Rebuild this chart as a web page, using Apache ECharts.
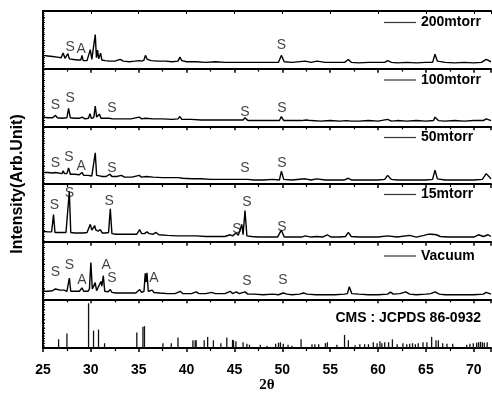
<!DOCTYPE html>
<html>
<head>
<meta charset="utf-8">
<script src="https://cdn.jsdelivr.net/npm/echarts@6/dist/echarts.min.js"></script>
<style>
html,body{margin:0;padding:0;background:#fff}
#main{width:492px;height:394px}
</style>
</head>
<body>
<div id="main"></div>
<script>
// XRD patterns, intensity in % of panel height, x = 2theta
var names = ['200mtorr', '100mtorr', '50mtorr', '15mtorr', 'Vacuum'];

var d200 = [[25,23],[25.5,22],[26,21],[26.5,20],[26.9,19],[27.1,27],[27.3,18],[27.45,19],[27.6,26],[27.75,17],[28.2,16],[28.6,15],[28.95,15],[29.07,23],[29.2,14],[29.6,14],[29.8,15],[29.94,33],[30.1,16],[30.3,17],[30.46,59],[30.58,19],[30.7,32],[30.82,17],[30.92,18],[31.02,27],[31.15,15],[31.5,14],[32,13],[32.5,13],[33.07,16],[33.4,13],[34,12],[34.6,13],[35.05,14],[35.3,13],[35.55,15],[35.7,23],[35.9,16],[36.3,14],[37,13],[37.8,13],[38.5,12],[39.1,13],[39.3,20],[39.5,14],[40,12],[41,12],[42,11],[43,12],[44,11],[45,11],[46,11],[47,11],[48,11],[49,11],[49.6,11],[49.9,23],[50.2,12],[51,11],[52.4,13],[53,11],[53.6,13],[54.5,11],[55.5,11],[56.5,11],[56.9,16],[57.2,11],[58,10],[59,11],[60,11],[60.7,11],[61,14],[61.4,11],[62,10],[63,11],[64,10],[65,11],[65.7,11],[65.95,25],[66.2,13],[67,11],[68,10],[69,11],[70,10],[70.8,11],[71.3,16],[71.8,12]];

var d100 = [[25,16],[25.5,15],[26,15],[26.3,19],[26.5,15],[27,14],[27.5,15],[27.67,31],[27.85,15],[28.3,14],[28.8,14],[29.07,16],[29.4,13],[29.75,14],[29.9,22],[30.05,14],[30.3,15],[30.46,35],[30.6,16],[30.75,14],[30.9,21],[31.05,14],[31.5,14],[31.9,14],[32.05,17],[32.25,13],[33,13],[33.2,15],[33.5,13],[34.2,13],[35.05,16],[35.3,13],[35.7,14],[36.5,13],[37.5,13],[38.5,12],[39.1,13],[39.3,17],[39.5,12],[40.5,12],[41.5,11],[42.5,11],[43.5,11],[44.5,11],[45.5,11],[45.9,11],[46.1,15],[46.4,10],[47,10],[48,10],[49,10],[49.7,10],[49.9,17],[50.15,10],[51,10],[52,10],[52.5,11],[53,10],[54,9],[55,10],[56,9],[56.7,10],[56.9,13],[57.2,9],[58,9],[59,10],[60,9],[61,12],[61.4,9],[62,10],[63,9],[64,10],[65,9],[65.8,10],[65.95,16],[66.3,10],[67,9],[68,10],[69,9],[70,10],[71,10],[71.3,13],[71.8,10]];

var d50 = [[25,20],[25.5,20],[26,19],[26.3,20],[26.5,18],[27,18],[27.1,23],[27.25,18],[27.5,18],[27.67,28],[27.85,17],[28.3,17],[28.8,16],[29.07,20],[29.25,15],[29.7,15],[29.9,18],[30.1,14],[30.3,15],[30.46,54],[30.6,15],[30.9,14],[31.2,13],[31.6,13],[32.0,17],[32.2,13],[32.7,13],[33.2,15],[33.5,12],[34.3,12],[35.05,15],[35.3,12],[35.8,13],[36.5,12],[37.5,11],[38.5,11],[39.1,11],[39.3,12],[39.6,10],[40.5,9],[41.5,9],[42.5,8],[43.5,8],[44.5,8],[45.5,8],[45.9,8],[46.1,11],[46.4,8],[47,7],[48,7],[49,8],[49.7,7],[49.9,22],[50.15,8],[51,7],[52.4,9],[53,7],[53.6,9],[54.5,7],[55.5,7],[56.5,7],[56.9,10],[57.2,7],[58,7],[59,7],[60,7],[60.7,8],[61,15],[61.4,8],[62,7],[63,7],[64,7],[65,7],[65.7,8],[65.95,24],[66.2,9],[67,7],[68,7],[69,7],[70,7],[70.9,8],[71.3,18],[71.8,9]];

var d15 = [[25,18],[25.5,17],[25.9,17],[26.1,47],[26.25,16],[26.6,16],[27,16],[27.4,16],[27.6,17],[27.75,87],[27.9,16],[28.3,15],[28.8,15],[29.2,15],[29.6,16],[29.8,17],[29.94,30],[30.1,20],[30.25,22],[30.4,28],[30.5,21],[30.6,21],[30.75,18],[30.98,21],[31.2,15],[31.5,15],[31.85,16],[32.03,57],[32.2,14],[32.6,13],[33.2,13],[34,13],[34.8,13],[35.1,21],[35.3,14],[35.6,14],[35.85,17],[36.1,14],[36.5,13],[36.8,16],[37.1,12],[38,11],[39,10],[40,10],[41,10],[42,9],[43,9],[44,9],[44.55,12],[44.8,10],[45.17,15],[45.4,11],[45.77,30],[45.9,12],[46.1,54],[46.3,10],[46.8,9],[47.5,8],[48.5,8],[49.5,8],[49.9,20],[50.2,8],[51,8],[52,8],[52.4,10],[53,8],[53.6,9],[54.2,8],[54.7,12],[55.1,8],[56,8],[56.6,9],[56.9,16],[57.2,9],[58,8],[59,8],[60,8],[61,10],[62,8],[63.3,11],[64,8],[64.8,11],[65.3,13],[65.6,13],[66.1,12],[66.5,9],[67.3,8],[68,8],[69,8],[70,8],[70.5,12],[71,9],[71.5,12],[71.8,9]];

var dVac = [[25,14],[25.5,14],[26,15],[26.3,18],[26.5,15],[26.8,16],[27,15],[27.2,16],[27.5,14],[27.75,37],[27.9,14],[28.3,14],[28.8,14],[29.07,20],[29.25,14],[29.7,14],[29.85,18],[30.0,64],[30.15,18],[30.3,17],[30.45,29],[30.6,15],[30.8,14],[31.05,31],[31.15,23],[31.3,41],[31.45,14],[31.8,13],[32.03,17],[32.2,12],[32.6,11],[33.3,11],[34,11],[34.7,11],[35.1,17],[35.3,12],[35.55,14],[35.68,45],[35.78,30],[35.86,46],[36.0,14],[36.2,13],[36.4,16],[36.6,12],[37.2,11],[38,10],[38.8,10],[39.33,14],[39.6,10],[40.5,10],[41,13],[41.3,10],[42,10],[42.6,12],[43,10],[43.5,10],[44,10],[44.55,14],[44.8,10],[45.2,13],[45.5,10],[46.1,13],[46.4,9],[47,9],[48,8],[49,9],[49.6,8],[50.1,11],[50.5,9],[51,8],[51.8,9],[52.2,11],[52.6,9],[53.5,8],[54.5,8],[55.5,8],[56.5,9],[56.8,10],[57.0,22],[57.25,10],[58,9],[59,8],[60,8],[61,9],[61.3,12.5],[61.6,9],[62.3,10],[62.9,13],[63.3,9],[64,8],[65,9],[65.5,10],[65.95,13],[66.4,9],[67,8],[68,8],[69,8],[70,8],[71,9],[71.3,12],[71.8,9]];

// JCPDS 86-0932 stick pattern
var sticks = [[26.63,18],[27.5,30],[29.76,92],[30.28,36],[30.8,38],[31.43,10],[34.8,32],[35.44,44],[35.6,45],[37.53,10],[38.4,10],[39.1,22],[40.66,16],[40.9,16],[41.0,16],[41.84,16],[42.2,23],[42.8,16],[43.58,10],[44.2,22],[44.8,17],[44.9,16],[45.15,14],[45.9,12],[46.3,9],[46.57,7],[47.7,7],[48.4,5],[49.3,9],[49.6,11],[49.8,12],[50.1,9],[50.6,7],[51.0,5],[51.96,18],[53.1,8],[53.4,8],[53.8,8],[54.5,10],[54.7,12],[55.7,7],[56.5,27],[56.9,16],[57.6,6],[58.1,8],[58.6,8],[59.0,8],[59.5,12],[59.9,10],[60.2,14],[60.4,10],[60.7,12],[61.1,12],[61.5,18],[62.0,8],[62.6,10],[63.0,8],[63.3,9],[63.6,10],[63.9,8],[64.2,10],[64.7,12],[65.1,12],[65.6,23],[66.05,16],[66.3,16],[66.75,10],[67.2,9],[67.8,9],[69.26,7],[69.6,9],[69.95,10],[70.3,11],[70.5,12],[70.7,13],[70.9,12],[71.1,11],[71.4,12]];

// phase markers: [2theta, height, text]
var ann200 = [[27.85,37,'S'],[29.0,34,'A'],[49.9,40,'S']];
var ann100 = [[26.3,36,'S'],[27.85,49,'S'],[32.2,31,'S'],[46.1,24,'S'],[49.95,32,'S']];
var ann50 = [[26.3,36,'S'],[27.7,47,'S'],[29.0,31,'A'],[32.2,28,'S'],[46.1,27,'S'],[49.95,36,'S']];
var ann15 = [[26.2,64,'S'],[27.75,84,'S'],[31.9,70,'S'],[45.25,21,'S'],[46.3,68,'S'],[49.95,26,'S']];
var annVac = [[26.3,47,'S'],[27.75,59,'S'],[29.06,34,'A'],[31.6,59,'A'],[32.2,36,'S'],[36.6,37,'A'],[46.3,32,'S'],[50.05,34,'S']];

var patterns = [d200, d100, d50, d15, dVac];
var marks = [ann200, ann100, ann50, ann15, annVac];
var legendY = [23.5, 81, 138.5, 195.5, 257];

var chart = echarts.init(document.getElementById('main'));
var font = 'Liberation Sans, Arial, sans-serif';

var grids = [], xAxes = [], yAxes = [], series = [], legends = [];
var ph = 57.67;
for (var i = 0; i < 6; i++) {
    grids.push({left: 43, right: 1, top: 11 + i * ph, height: ph});
    xAxes.push({
        type: 'value', gridIndex: i, min: 25, max: 71.8, interval: 5,
        axisLine: {show: true, lineStyle: {color: '#000', width: 2}},
        axisTick: {show: true, length: 4, lineStyle: {color: '#000', width: 1.5}},
        minorTick: {show: true, splitNumber: 2, length: 3, lineStyle: {color: '#000', width: 1.2}},
        splitLine: {show: false},
        axisLabel: {show: i == 5, showMaxLabel: false, color: '#000', fontFamily: font,
            fontWeight: 'bold', fontSize: 14, margin: 15},
        name: i == 5 ? '2θ' : '', nameLocation: 'middle', nameGap: 29,
        nameTextStyle: {fontFamily: 'Liberation Serif, serif', fontWeight: 'bold', fontSize: 15, color: '#000'}
    });
    yAxes.push({
        type: 'value', gridIndex: i, min: 0, max: 100, interval: 10,
        axisLine: {show: true, lineStyle: {color: '#000', width: 2}},
        axisTick: {show: true, inside: true, length: 2, lineStyle: {color: '#000'}},
        minorTick: {show: true, splitNumber: 3, length: 1.5, lineStyle: {color: '#000'}},
        axisLabel: {show: false},
        splitLine: {show: false}
    });
}
// top frame line
xAxes.push({
    type: 'value', gridIndex: 0, position: 'top', min: 25, max: 71.8, interval: 5,
    axisLine: {show: true, lineStyle: {color: '#000', width: 2}},
    axisTick: {show: true, inside: true, length: 3, lineStyle: {color: '#000'}},
    axisLabel: {show: false}, splitLine: {show: false}
});

for (var k = 0; k < 5; k++) {
    series.push({
        name: names[k], type: 'line', xAxisIndex: k, yAxisIndex: k,
        data: patterns[k], showSymbol: false, symbol: 'none',
        lineStyle: {color: '#000', width: 1.4}, itemStyle: {color: '#000'}
    });
    series.push({
        type: 'scatter', xAxisIndex: k, yAxisIndex: k, data: marks[k],
        symbolSize: 0, silent: true,
        label: {show: true, position: 'inside', formatter: '{@[2]}', color: '#111',
            fontFamily: font, fontSize: 14}
    });
    legends.push({
        data: [names[k]], left: 384, top: legendY[k] - 8, padding: 0,
        icon: 'rect', itemWidth: 32, itemHeight: 1.2, itemGap: 0,
        itemStyle: {color: '#333'},
        textStyle: {fontFamily: font, fontWeight: 'bold', fontSize: 14, color: '#000'}
    });
}
series.push({
    type: 'bar', xAxisIndex: 5, yAxisIndex: 5, data: sticks,
    barWidth: 1.3, itemStyle: {color: '#111'}, silent: true
});

chart.setOption({
    animation: false,
    backgroundColor: '#fff',
    title: {
        text: 'CMS : JCPDS 86-0932', right: 11, top: 311, padding: 0,
        textStyle: {fontFamily: font, fontWeight: 'bold', fontSize: 14, color: '#000'}
    },
    legend: legends,
    grid: grids,
    xAxis: xAxes,
    yAxis: yAxes,
    series: series,
    graphic: [{
        type: 'text', rotation: Math.PI / 2, x: 18, y: 184,
        style: {text: 'Intensity(Arb.Unit)', fill: '#000', font: 'bold 16px ' + font,
            textAlign: 'center', textVerticalAlign: 'middle'}
    }]
});
</script>
</body>
</html>
